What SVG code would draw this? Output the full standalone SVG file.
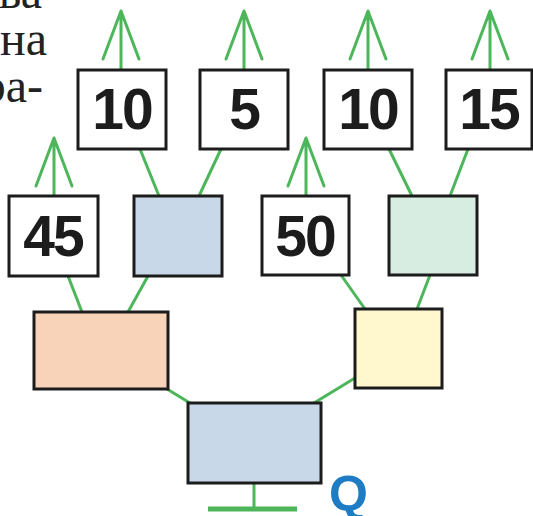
<svg xmlns="http://www.w3.org/2000/svg" width="533" height="516" viewBox="0 0 533 516">
  <style>
    .box { stroke: #1c1c1c; stroke-width: 3; }
    .val { fill: #fff; }
    .num { font-family: "Liberation Sans", Arial, sans-serif; font-weight: bold; font-size: 57px; fill: #1c1c1c; text-anchor: middle; letter-spacing: -2px; }
    .wire { stroke: #4db65b; stroke-width: 3; fill: none; stroke-linecap: round; stroke-linejoin: round; }
    .body { font-family: "Liberation Serif", "Times New Roman", serif; font-size: 48px; fill: #222; text-anchor: end; }
  </style>
  <defs>
    <!-- open upward arrow: tip at origin, shaft running down -->
    <path id="up" d="M-18,48 L0,0 L18,48 M0,0 V58"/>
  </defs>

  <!-- running text at the page edge -->
  <g id="page-text">
    <text class="body" x="42" y="8">ва</text>
    <text class="body" x="47" y="55">на</text>
    <text class="body" x="43" y="102">ра-</text>
  </g>

  <g id="connectors" class="wire">
    <use href="#up" x="121" y="11"/>
    <use href="#up" x="244" y="11"/>
    <use href="#up" x="368" y="11"/>
    <use href="#up" x="490" y="11"/>
    <use href="#up" x="54" y="138"/>
    <use href="#up" x="306" y="138"/>
    <line x1="140" y1="149" x2="159" y2="196"/>
    <line x1="221" y1="149" x2="199" y2="196"/>
    <line x1="389" y1="149" x2="412" y2="196"/>
    <line x1="468" y1="149" x2="450" y2="196"/>
    <line x1="68" y1="276" x2="82" y2="312"/>
    <line x1="148" y1="276" x2="128" y2="312"/>
    <line x1="341" y1="275" x2="365" y2="309"/>
    <line x1="430" y1="275" x2="417" y2="309"/>
    <line x1="167" y1="389" x2="190" y2="403"/>
    <line x1="355" y1="378" x2="314" y2="403"/>
    <line x1="254" y1="483" x2="254" y2="509"/>
    <line x1="208" y1="509" x2="297" y2="509" style="stroke-width:5;stroke-linecap:butt"/>
  </g>

  <!-- top row -->
  <g id="n10a"><rect class="box val" x="78" y="70" width="88" height="79"/><text class="num" x="122" y="129">10</text></g>
  <g id="n5"><rect class="box val" x="200" y="70" width="88" height="79"/><text class="num" x="244" y="129">5</text></g>
  <g id="n10b"><rect class="box val" x="324" y="70" width="88" height="79"/><text class="num" x="368" y="129">10</text></g>
  <g id="n15"><rect class="box val" x="446" y="70" width="86" height="79"/><text class="num" x="489" y="129">15</text></g>

  <!-- second row -->
  <g id="n45"><rect class="box val" x="9" y="196" width="89" height="80"/><text class="num" x="53" y="256">45</text></g>
  <g id="blue-mid"><rect class="box" x="134" y="196" width="88" height="80" fill="#c8d8e8"/></g>
  <g id="n50"><rect class="box val" x="262" y="196" width="87" height="79"/><text class="num" x="305" y="256">50</text></g>
  <g id="green-mid"><rect class="box" x="389" y="196" width="88" height="79" fill="#d8ede2"/></g>

  <!-- third row -->
  <g id="salmon"><rect class="box" x="34" y="312" width="134" height="77" fill="#f8d2b9"/></g>
  <g id="yellow"><rect class="box" x="355" y="309" width="87" height="79" fill="#fff8cf"/></g>

  <!-- root -->
  <g id="root"><rect class="box" x="188" y="403" width="133" height="80" fill="#c8d8e8"/></g>

  <g id="label-q"><text x="329" y="511" font-family="Liberation Sans, Arial, sans-serif" font-weight="bold" font-size="50" fill="#1d7cc4">Q</text></g>
</svg>
